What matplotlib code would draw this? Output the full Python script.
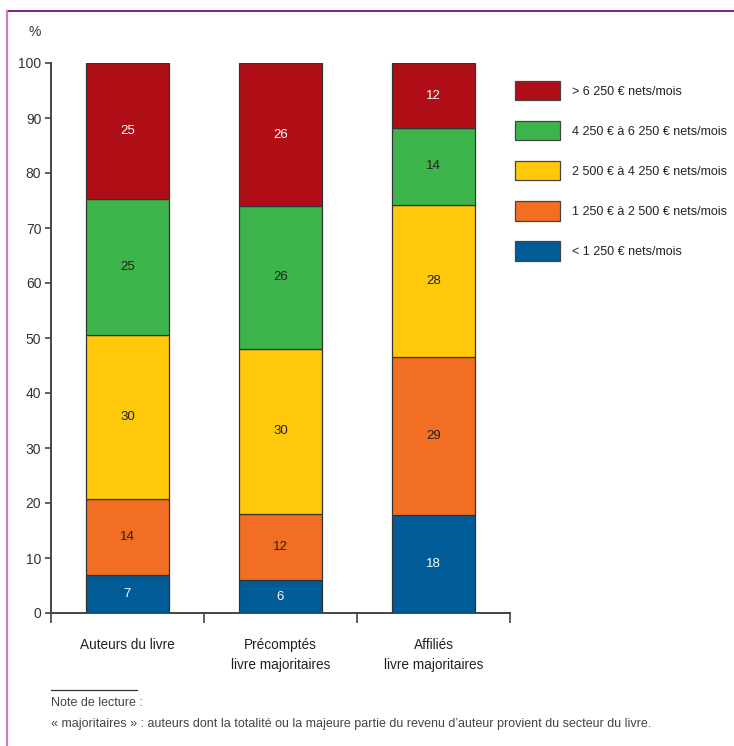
import matplotlib.pyplot as plt
import matplotlib.lines as mlines
from matplotlib.patches import Patch
import numpy as np

plt.rcParams['font.family'] = ['Liberation Sans', 'DejaVu Sans']

categories = ["Auteurs du livre", "Précomptés\nlivre majoritaires", "Affiliés\nlivre majoritaires"]
series = ["< 1 250 € nets/mois", "1 250 € à 2 500 € nets/mois", "2 500 € à 4 250 € nets/mois",
          "4 250 € à 6 250 € nets/mois", "> 6 250 € nets/mois"]
low = [7, 6, 18]
mid_low = [14, 12, 29]
mid = [30, 30, 28]
mid_high = [25, 26, 14]
high = [25, 26, 12]

colors = ["#005B96", "#F26E22", "#FFC80B", "#3CB44B", "#AF0E16"]
text_colors = ["white", "#222222", "#222222", "#222222", "white"]

data = np.array([low, mid_low, mid, mid_high, high], dtype=float)
# bars are drawn scaled to 100 (rounded labels may sum to 101)
scaled = data / data.sum(axis=0) * 100

fig = plt.figure(figsize=(7.34, 7.46), dpi=100)
ax = fig.add_axes([51 / 734, 133 / 746, 459 / 734, 550 / 746])

x = np.arange(len(categories))
bottom = np.zeros(len(categories))
for i in range(len(series)):
    ax.bar(x, scaled[i], 0.54, bottom=bottom, color=colors[i], edgecolor="#333333",
           linewidth=0.9, zorder=3)
    for j in range(len(categories)):
        ax.text(x[j], bottom[j] + scaled[i][j] / 2, f"{int(data[i][j])}", ha="center",
                va="center", fontsize=9.5, color=text_colors[i], zorder=4)
    bottom += scaled[i]

ax.set_xlim(-0.5, 2.5)
ax.set_ylim(0, 100)
ax.set_yticks(range(0, 101, 10))
ax.set_xticks([-0.5, 0.5, 1.5, 2.5])
ax.set_xticklabels([])
ax.tick_params(axis="y", direction="out", length=4, width=1.2, color="#444444",
               labelsize=10, labelcolor="#333333", pad=3)
ax.tick_params(axis="x", direction="out", length=7, width=1.2, color="#444444")
for s in ["top", "right"]:
    ax.spines[s].set_visible(False)
for s in ["left", "bottom"]:
    ax.spines[s].set_color("#444444")
    ax.spines[s].set_linewidth(1.4)

for j, lab in enumerate(categories):
    ax.text(x[j], -4.6, lab, ha="center", va="top", fontsize=9.8, color="#222222",
            linespacing=1.55)

fig.text(35 / 734, 1 - 32 / 746, "%", ha="center", va="center", fontsize=10, color="#333333")

# legend
handles = [Patch(facecolor=colors[i], edgecolor="#444444", linewidth=0.9) for i in range(len(series))][::-1]
fig.legend(handles, series[::-1], loc="upper left", bbox_to_anchor=(515 / 734, 1 - 81 / 746),
           frameon=False, fontsize=9, handlelength=3.6, handleheight=2.0, borderpad=0,
           borderaxespad=0, labelspacing=1.66, handletextpad=0.95, labelcolor="#222222")

# frame lines
fig.add_artist(mlines.Line2D([7 / 734, 1], [1 - 11 / 746] * 2, color="#7B2182", linewidth=1.4))
fig.add_artist(mlines.Line2D([7 / 734] * 2, [0, 1 - 11 / 746], color="#C77DBF", linewidth=1.6))

# note
fig.add_artist(mlines.Line2D([51 / 734, 137 / 734], [1 - 690 / 746] * 2, color="#333333", linewidth=0.9))
fig.text(51 / 734, 1 - 703 / 746, "Note de lecture :", ha="left", va="center", fontsize=9, color="#444444")
fig.text(51 / 734, 1 - 724 / 746,
         "« majoritaires » : auteurs dont la totalité ou la majeure partie du revenu d’auteur provient du secteur du livre.",
         ha="left", va="center", fontsize=9, color="#444444")

fig.savefig("out.png", dpi=100)
